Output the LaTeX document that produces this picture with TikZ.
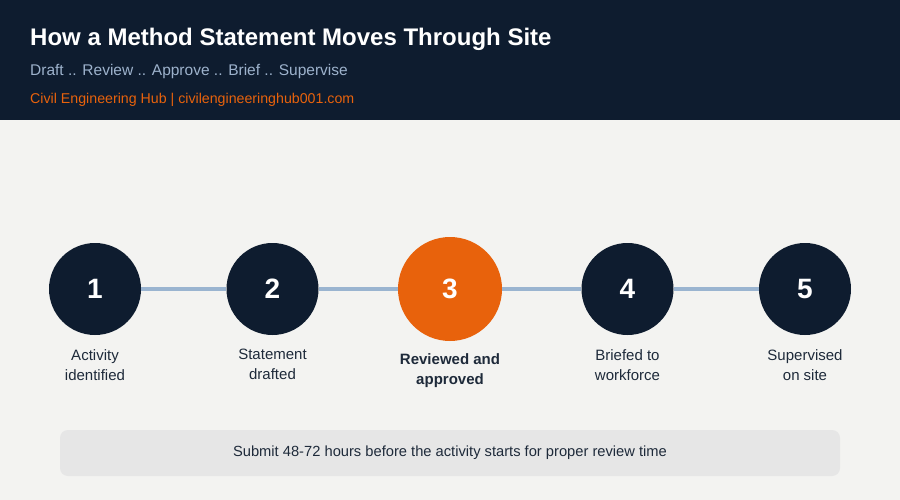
\documentclass[tikz,border=0pt]{standalone}
\usepackage{fontspec}
\setmainfont{Liberation Sans}
\usetikzlibrary{positioning}

\definecolor{navy}{HTML}{0E1C2F}
\definecolor{paper}{HTML}{F3F3F1}
\definecolor{accent}{HTML}{E8620C}
\definecolor{mist}{HTML}{9DB2CC}
\definecolor{rail}{HTML}{9AB4D0}
\definecolor{ink}{HTML}{1E2A3A}
\definecolor{notefill}{HTML}{E6E6E6}

\tikzset{
  stage/.style={circle,fill=navy,minimum size=92pt,inner sep=0pt,text=white,
    font=\bfseries\fontsize{28}{32}\selectfont},
  stagehot/.style={stage,fill=accent,minimum size=104pt},
  caption/.style={align=center,inner sep=0pt,text=ink,font=\fontsize{15}{20}\selectfont},
  rail/.style={draw=rail,line width=4pt}
}

\begin{document}
\begin{tikzpicture}[x=1pt,y=-1pt]
  % header and page
  \fill[navy] (0,0) rectangle (900,120);
  \fill[paper] (0,120) rectangle (900,500);
  \useasboundingbox (0,0) rectangle (900,500);
  \node (title) [anchor=base west,inner sep=0pt,text=white,
    font=\bfseries\fontsize{24}{28}\selectfont] at (30,46)
    {How a Method Statement Moves Through Site};
  \node (sub) [anchor=base west,inner sep=0pt,text=mist,
    font=\fontsize{15.5}{19}\selectfont] at (30,76)
    {Draft .. Review .. Approve .. Brief .. Supervise};
  \node (site) [anchor=base west,inner sep=0pt,text=accent,
    font=\fontsize{14.2}{18}\selectfont] at (30,104)
    {Civil Engineering Hub | civilengineeringhub001.com};
  %
  \node (s1) [stage] at (95,289) {1};
  \node (s2) [stage,on grid,right=177.5pt of s1] {2};
  \node (s3) [stagehot,on grid,right=177.5pt of s2] {3};
  \node (s4) [stage,on grid,right=177.5pt of s3] {4};
  \node (s5) [stage,on grid,right=177.5pt of s4] {5};
  \path[rail] (s1) -- (s2)
    (s2) -- (s3)
    (s3) -- (s4)
    (s4) -- (s5);
  %
  \node (c1) [caption,below=60pt of s1.center] {Activity\\identified};
  \node (c2) [caption,below=60pt of s2.center] {Statement\\drafted};
  \node (c3) [caption,font=\bfseries\fontsize{15}{20}\selectfont,
    below=64pt of s3.center] {Reviewed and\\approved};
  \node (c4) [caption,below=60pt of s4.center] {Briefed to\\workforce};
  \node (c5) [caption,below=60pt of s5.center] {Supervised\\on site};
  %
  \node (note) [fill=notefill,rounded corners=8pt,minimum width=780pt,
    minimum height=46pt,text=ink,font=\fontsize{14.7}{18}\selectfont]
    at (450,453) {Submit 48-72 hours before the activity starts for proper review time};
\end{tikzpicture}
\end{document}
